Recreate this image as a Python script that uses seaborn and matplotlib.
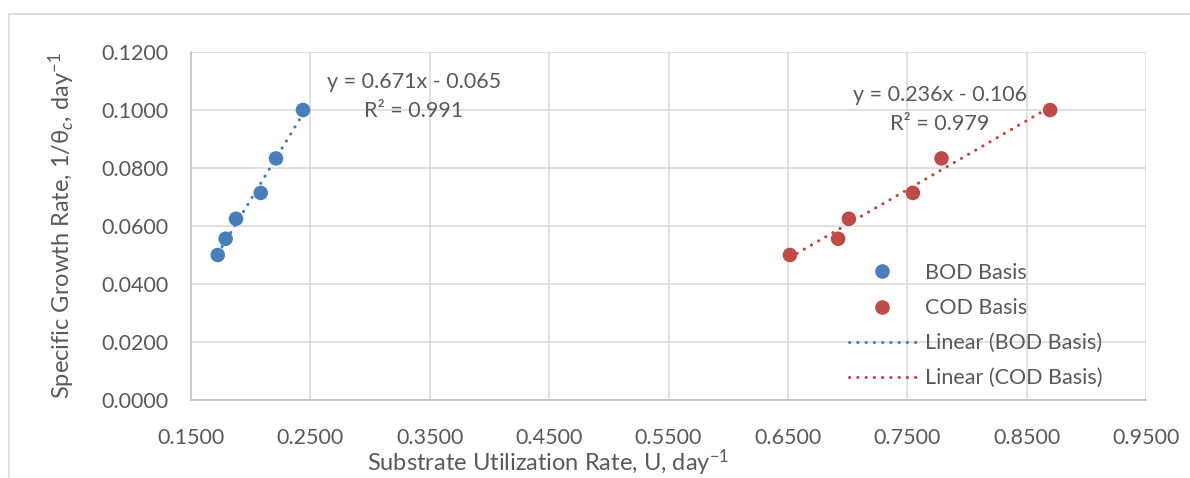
import matplotlib
matplotlib.use("Agg")
import matplotlib.pyplot as plt
import seaborn as sns
import numpy as np
import pandas as pd
from matplotlib.lines import Line2D
from matplotlib.ticker import FormatStrFormatter

# ---- data ----
bod_u = [0.1724, 0.1790, 0.1877, 0.2084, 0.2212, 0.2438]
cod_u = [0.6517, 0.6921, 0.7011, 0.7547, 0.7787, 0.8697]
growth = [0.0500, 0.0556, 0.0625, 0.0714, 0.0833, 0.1000]
series_names = ["BOD Basis", "COD Basis"]
bod_eq = ["y = 0.671x - 0.065", "R² = 0.991"]
cod_eq = ["y = 0.236x - 0.106", "R² = 0.979"]
x_ticks = [0.15, 0.25, 0.35, 0.45, 0.55, 0.65, 0.75, 0.85, 0.95]
y_ticks = [0.0, 0.02, 0.04, 0.06, 0.08, 0.10, 0.12]

df = pd.DataFrame({
    "U": bod_u + cod_u,
    "mu": growth + growth,
    "basis": [series_names[0]] * len(bod_u) + [series_names[1]] * len(cod_u),
})

BLUE = "#4A7EBB"
RED = "#BE4B48"
TXT = "#595959"
GRID = "#D9D9D9"

sns.set_style("white")
plt.rcParams["font.family"] = ["Lato", "DejaVu Sans"]
plt.rcParams["mathtext.fontset"] = "custom"
plt.rcParams["mathtext.rm"] = "Lato"
plt.rcParams["mathtext.it"] = "Lato:italic"

W, H = 1190, 478
fig = plt.figure(figsize=(W / 100, H / 100), dpi=100)
L, R, T, B = 191, 1146, 52, 400
ax = fig.add_axes([L / W, 1 - B / H, (R - L) / W, (B - T) / H])

# figure border
fig.add_artist(Line2D([8.5 / W, 8.5 / W], [0, 1 - 13.5 / H], transform=fig.transFigure, color=GRID, lw=1.2))
fig.add_artist(Line2D([8.5 / W, 1], [1 - 13.5 / H, 1 - 13.5 / H], transform=fig.transFigure, color=GRID, lw=1.2))

dot = (0, (0.1, 2.6))
line_kw = dict(lw=2.2, linestyle=dot, dash_capstyle="round")

sns.regplot(data=df[df.basis == series_names[0]], x="U", y="mu", scatter=False, ci=None,
            ax=ax, color=BLUE, line_kws=line_kw)
sns.regplot(data=df[df.basis == series_names[1]], x="U", y="mu", scatter=False, ci=None,
            ax=ax, color=RED, line_kws=line_kw)
sns.scatterplot(data=df, x="U", y="mu", hue="basis", palette=[BLUE, RED], s=110,
                edgecolor="none", ax=ax, legend=False, zorder=3)

ax.set_xlim(0.15, 0.95)
ax.set_ylim(0, 0.12)
ax.xaxis.set_major_locator(plt.FixedLocator(x_ticks))
ax.yaxis.set_major_locator(plt.FixedLocator(y_ticks))
ax.xaxis.set_major_formatter(FormatStrFormatter("%.4f"))
ax.yaxis.set_major_formatter(FormatStrFormatter("%.4f"))
ax.grid(True, color=GRID, lw=1.1)
ax.set_axisbelow(True)
for s in ["top", "right"]:
    ax.spines[s].set_visible(False)
for s in ["left", "bottom"]:
    ax.spines[s].set_color("#BFBFBF")
    ax.spines[s].set_linewidth(1.1)
ax.tick_params(axis="both", colors=TXT, labelsize=15.5, length=5, width=1.1, color="#BFBFBF", direction="out")
ax.tick_params(axis="x", pad=15)
ax.tick_params(axis="y", pad=11)

ax.set_xlabel("Substrate Utilization Rate, U, day$^{-1}$", fontsize=17, color=TXT)
ax.set_ylabel(r"Specific Growth Rate, 1/θ$_{c}$, day$^{-1}$", fontsize=17, color=TXT)
ax.xaxis.set_label_coords((548 - L) / (R - L), -(463 - B) / (B - T))
ax.yaxis.set_label_coords(-(L - 62) / (R - L), 0.5)
ax.xaxis.label.set_va("center")
ax.yaxis.label.set_va("center")

# equations
def px(xp, yp):
    return ((xp - L) / (R - L), (B - yp) / (B - T))

ax.text(*px(414, 82), bod_eq[0], transform=ax.transAxes, ha="center", va="center", fontsize=15.5, color=TXT)
ax.text(*px(414, 111), bod_eq[1], transform=ax.transAxes, ha="center", va="center", fontsize=15.5, color=TXT)
ax.text(*px(940, 95), cod_eq[0], transform=ax.transAxes, ha="center", va="center", fontsize=15.5, color=TXT)
ax.text(*px(940, 124), cod_eq[1], transform=ax.transAxes, ha="center", va="center", fontsize=15.5, color=TXT)

handles = [
    Line2D([], [], marker="o", ls="none", color=BLUE, markersize=10.5, markeredgewidth=0),
    Line2D([], [], marker="o", ls="none", color=RED, markersize=10.5, markeredgewidth=0),
    Line2D([], [], color=BLUE, **line_kw),
    Line2D([], [], color=RED, **line_kw),
]
labels = [series_names[0], series_names[1], "Linear (BOD Basis)", "Linear (COD Basis)"]
leg = ax.legend(handles, labels, loc="upper left", bbox_to_anchor=px(849, 263), frameon=False,
                fontsize=15.5, handlelength=3.1, handletextpad=0.45, labelspacing=0.7,
                borderpad=0, borderaxespad=0)
for t in leg.get_texts():
    t.set_color(TXT)

fig.savefig("out.png", dpi=100, facecolor="white")
